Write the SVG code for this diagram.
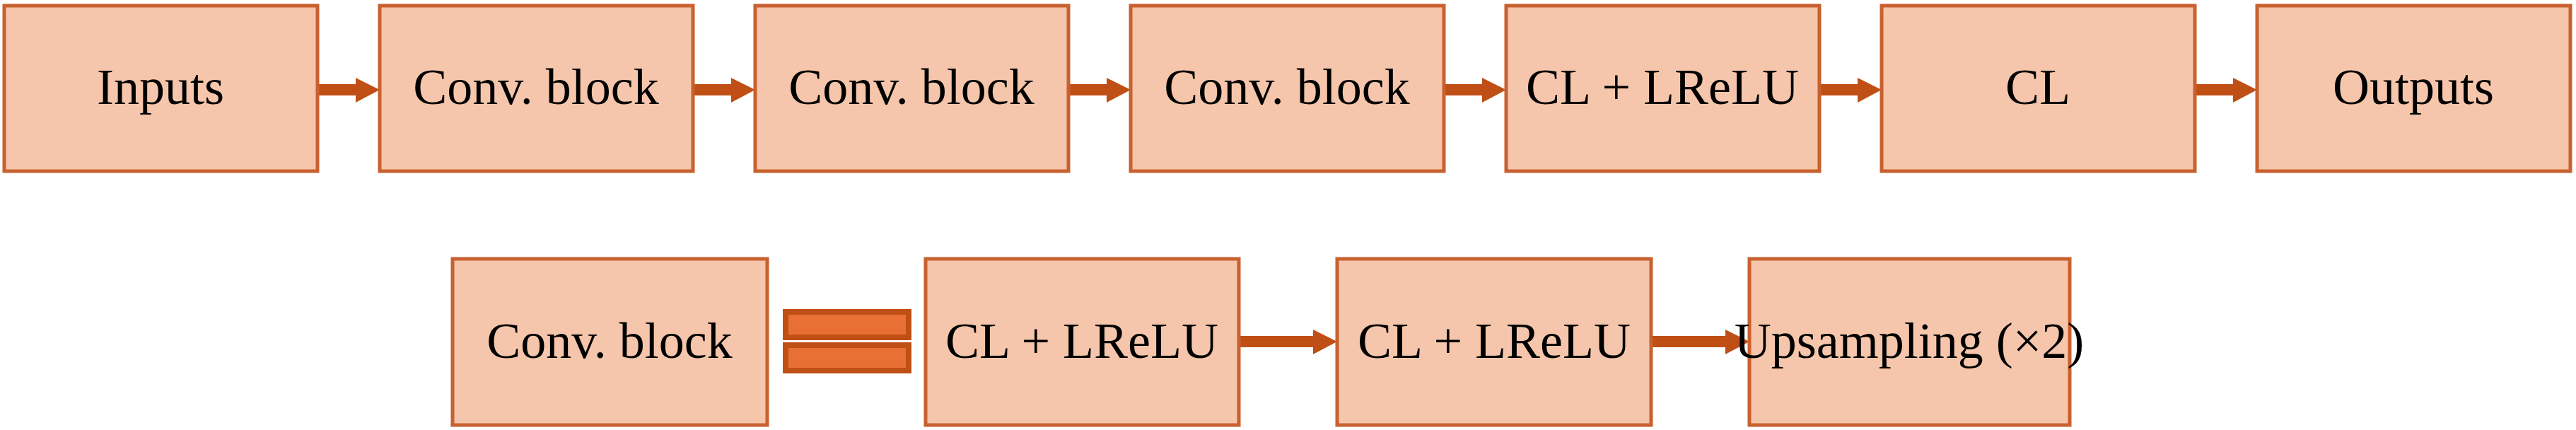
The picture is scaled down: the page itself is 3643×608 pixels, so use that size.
<svg xmlns="http://www.w3.org/2000/svg" width="3643" height="608" viewBox="0 0 3643 608">
<style>
.b{fill:#F5C6AB;stroke:#C8612F;stroke-width:5}
.t{font-family:"Liberation Serif",serif;font-size:72px;fill:#000;text-anchor:middle}
.a{fill:#C04F15}
.eq{fill:#E87035;stroke:#C04F15;stroke-width:8}
</style>
<defs><path id="arr" class="a" d="M0,-6 H56 V-18 H88 L88,0 L88,0 L88,0 Z"/></defs>
<g id="connectors">
<path class="a" d="M449,119 H503 V110 L537,127 L503,145 V135 H449 Z"/>
<path class="a" d="M980,119 H1034 V110 L1068,127 L1034,145 V135 H980 Z"/>
<path class="a" d="M1511,119 H1565 V110 L1599,127 L1565,145 V135 H1511 Z"/>
<path class="a" d="M2042,119 H2096 V110 L2130,127 L2096,145 V135 H2042 Z"/>
<path class="a" d="M2573,119 H2627 V110 L2661,127 L2627,145 V135 H2573 Z"/>
<path class="a" d="M3104,119 H3158 V110 L3192,127 L3158,145 V135 H3104 Z"/>
<path class="a" d="M1752,475 H1857 V466 L1891,483 L1857,501 V491 H1752 Z"/>
<path class="a" d="M2335,475 H2440 V466 L2474,483 L2440,501 V491 H2335 Z"/>
</g>
<g id="n1"><rect class="b" x="6" y="8" width="443" height="234"/><text class="t" x="227" y="147">Inputs</text></g>
<g id="n2"><rect class="b" x="537" y="8" width="443" height="234"/><text class="t" x="758" y="147">Conv. block</text></g>
<g id="n3"><rect class="b" x="1068" y="8" width="443" height="234"/><text class="t" x="1289" y="147">Conv. block</text></g>
<g id="n4"><rect class="b" x="1599" y="8" width="443" height="234"/><text class="t" x="1820" y="147">Conv. block</text></g>
<g id="n5"><rect class="b" x="2130" y="8" width="443" height="234"/><text class="t" x="2351" y="147">CL + LReLU</text></g>
<g id="n6"><rect class="b" x="2661" y="8" width="443" height="234"/><text class="t" x="2882" y="147">CL</text></g>
<g id="n7"><rect class="b" x="3192" y="8" width="443" height="234"/><text class="t" x="3413" y="147">Outputs</text></g>
<g id="b1"><rect class="b" x="640" y="366" width="445" height="235"/><text class="t" x="862" y="506">Conv. block</text></g>
<g id="eq"><rect class="eq" x="1111" y="441" width="174" height="36"/><rect class="eq" x="1111" y="488" width="174" height="36"/></g>
<g id="b2"><rect class="b" x="1309" y="366" width="443" height="235"/><text class="t" x="1530" y="506">CL + LReLU</text></g>
<g id="b3"><rect class="b" x="1891" y="366" width="444" height="235"/><text class="t" x="2113" y="506">CL + LReLU</text></g>
<g id="b4"><rect class="b" x="2474" y="366" width="453" height="235"/><text class="t" x="2700" y="506">Upsampling (×2)</text></g>
</svg>
